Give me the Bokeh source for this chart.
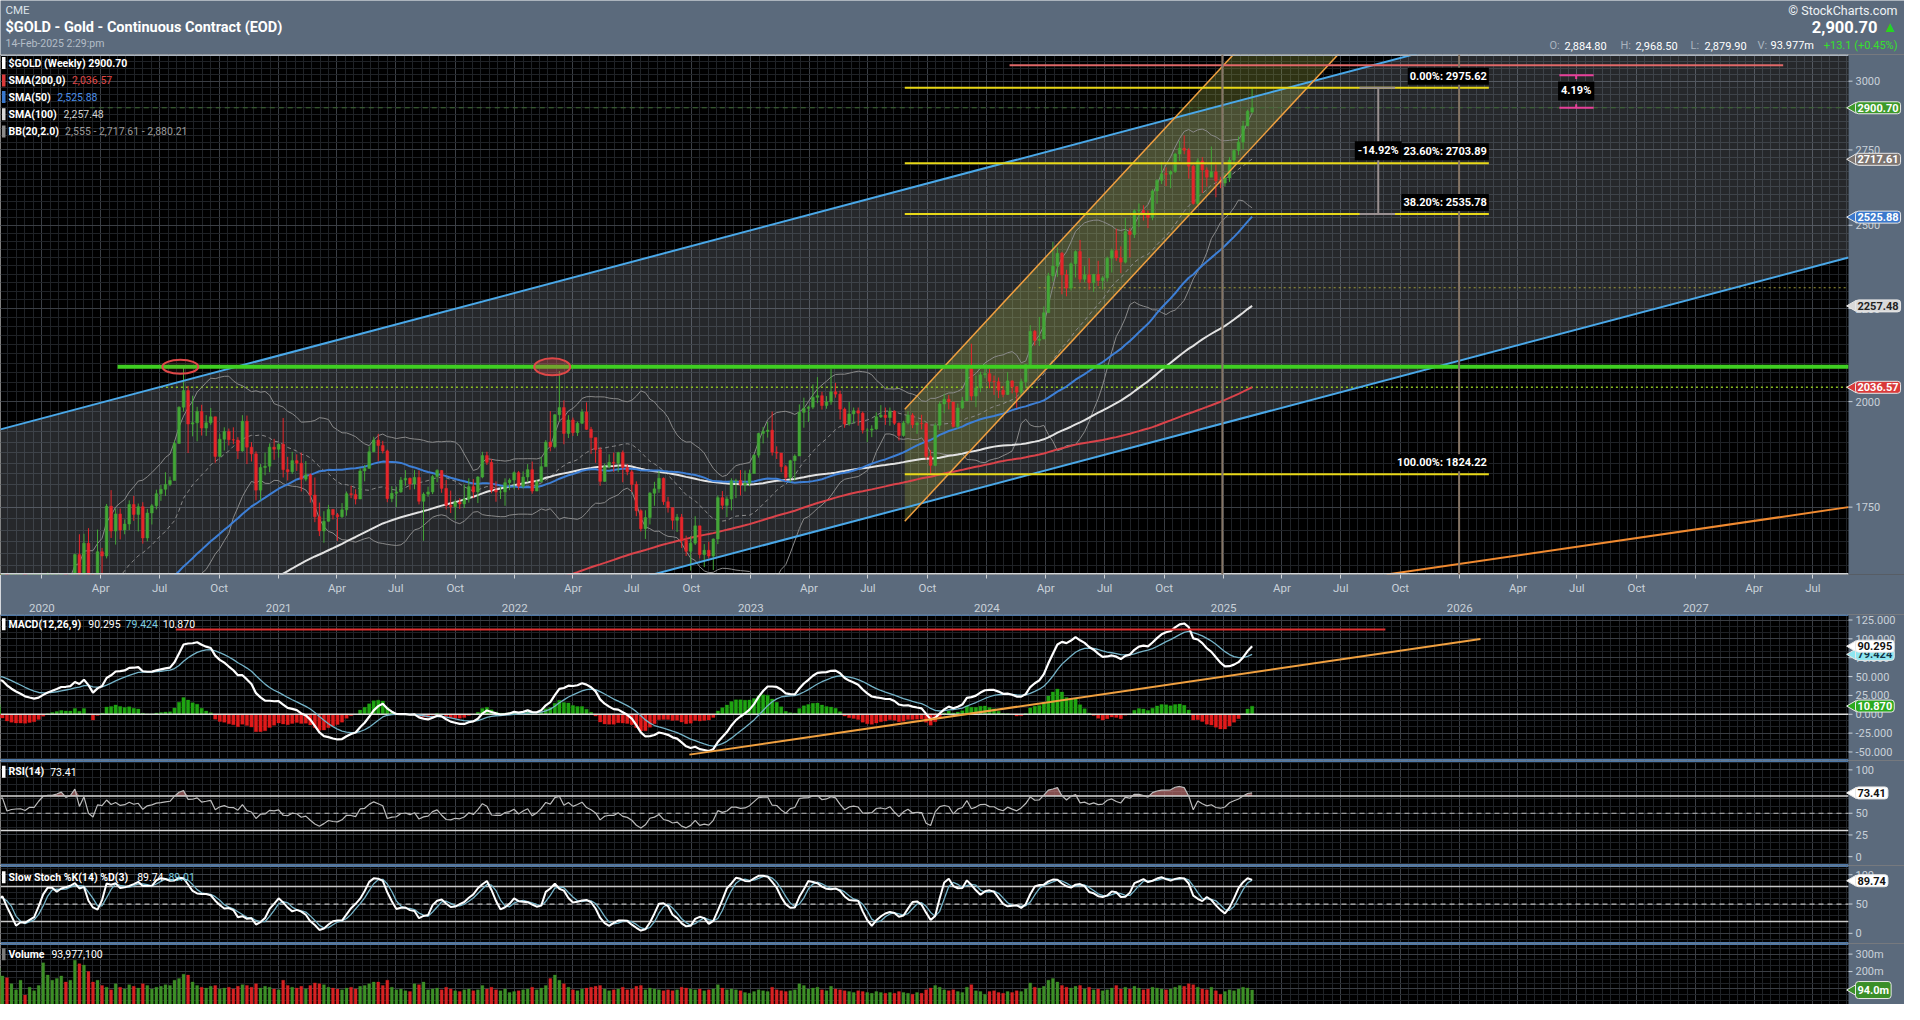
import numpy as np
import pandas as pd
from bokeh.plotting import figure
from bokeh.layouts import column
from bokeh.models import (Range1d, FixedTicker, DatetimeAxis, Label, Span,
                          CustomJSTickFormatter, ColumnDataSource, BoxAnnotation)
from bokeh.embed import file_html
from bokeh.resources import INLINE

# ---------------------------------------------------------------- data
# weekly closes (Fridays), warm-up year for the long moving averages
close_2018 = [
    1322, 1338, 1332, 1350,
    1337, 1316, 1356, 1330,
    1323, 1324, 1312, 1347, 1327,
    1332, 1347, 1336, 1323,
    1314, 1320, 1289, 1301,
    1298, 1302, 1278, 1270, 1254,
    1255, 1241, 1231, 1231,
    1223, 1219, 1184, 1213, 1206,
    1199, 1201, 1201, 1196,
    1207, 1222, 1229, 1235,
    1235, 1210, 1223, 1223, 1222,
    1252, 1241, 1258, 1283,
]

close_2019 = [
    1286, 1289, 1282, 1303,
    1317, 1316, 1322, 1330,
    1299, 1298, 1302, 1312, 1298,
    1295, 1290, 1276, 1288,
    1281, 1287, 1277, 1285, 1311,
    1346, 1344, 1399, 1413,
    1400, 1412, 1426, 1419,
    1457, 1509, 1523, 1537, 1529,
    1515, 1499, 1515, 1503,
    1513, 1489, 1494, 1505,
    1515, 1459, 1468, 1471, 1472,
    1465, 1481, 1481, 1515,
]
high_2019 = [
    1300, 1298, 1297, 1306,
    1326, 1322, 1326, 1349,
    1334, 1302, 1311, 1321, 1327,
    1302, 1316, 1293, 1292,
    1291, 1290, 1303, 1290, 1314,
    1349, 1362, 1414, 1443,
    1442, 1423, 1455, 1432,
    1458, 1524, 1535, 1546, 1566,
    1566, 1521, 1525, 1544,
    1520, 1519, 1500, 1508,
    1518, 1515, 1474, 1478, 1475,
    1487, 1488, 1486, 1519,
]
low_2019 = [
    1278, 1281, 1279, 1276,
    1300, 1306, 1305, 1318,
    1297, 1281, 1290, 1298, 1287,
    1285, 1285, 1270, 1268,
    1267, 1277, 1273, 1270, 1282,
    1309, 1327, 1342, 1392,
    1382, 1397, 1407, 1412,
    1400, 1462, 1495, 1500, 1521,
    1505, 1485, 1491, 1497,
    1465, 1486, 1481, 1486,
    1487, 1456, 1448, 1460, 1454,
    1459, 1462, 1474, 1479,
]
vol_2019 = [
    95, 110, 102, 118,
    120, 105, 98, 140,
    150, 125, 110, 130, 145,
    115, 120, 98, 110,
    105, 112, 100, 130, 165,
    150, 210, 190, 160,
    150, 175, 140, 200,
    230, 210, 180, 195, 170,
    160, 150, 175, 140,
    160, 150, 180, 220,
    175, 165, 130, 95, 150,
    65, 110, 90, 120,
]

close_2020 = [
    1552, 1560, 1560, 1571, 1587,
    1570, 1584, 1648, 1566,
    1672, 1530, 1484, 1654,
    1645, 1752, 1698, 1735,
    1700, 1713, 1756, 1734, 1751,
    1683, 1737, 1753, 1780,
    1790, 1801, 1810, 1897, 1986,
    2028, 1944, 1947, 1975,
    1934, 1947, 1962, 1866,
    1907, 1926, 1906, 1905, 1879,
    1951, 1888, 1872, 1788,
    1840, 1843, 1888, 1883,
]
high_2020 = [
    1557, 1611, 1566, 1575, 1590,
    1589, 1585, 1650, 1691,
    1692, 1704, 1560, 1701,
    1662, 1757, 1788, 1747,
    1747, 1723, 1765, 1775, 1758,
    1761, 1746, 1757, 1789,
    1800, 1829, 1819, 1904, 1988,
    2089, 2040, 2015, 1987,
    1992, 1966, 1984, 1962,
    1920, 1936, 1933, 1936, 1912,
    1966, 1965, 1900, 1878,
    1848, 1875, 1897, 1908,
]
low_2020 = [
    1513, 1549, 1537, 1550, 1565,
    1550, 1563, 1582, 1563,
    1563, 1505, 1451, 1474,
    1576, 1640, 1683, 1669,
    1680, 1691, 1700, 1720, 1697,
    1671, 1676, 1712, 1745,
    1764, 1775, 1797, 1811, 1897,
    1975, 1874, 1914, 1902,
    1916, 1915, 1942, 1851,
    1866, 1880, 1892, 1895, 1860,
    1877, 1848, 1854, 1765,
    1765, 1822, 1829, 1858,
]
vol_2020 = [
    250, 180, 150, 160, 175,
    140, 150, 265, 245,
    237, 200, 140, 150,
    120, 110, 95, 130,
    110, 100, 125, 115, 105,
    130, 120, 100, 110,
    115, 125, 120, 150, 160,
    185, 180, 140, 120,
    110, 105, 115, 120,
    100, 105, 110, 100, 115,
    125, 120, 110, 130,
    105, 115, 110, 100,
]

close_2021 = [
    1895, 1835, 1830, 1856, 1850,
    1813, 1823, 1777, 1729,
    1698, 1719, 1745, 1733,
    1729, 1744, 1780, 1778, 1768,
    1832, 1838, 1877, 1905,
    1892, 1879, 1769, 1781,
    1784, 1811, 1815, 1802, 1817,
    1763, 1779, 1784, 1819,
    1833, 1792, 1754, 1751,
    1761, 1757, 1768, 1796, 1784,
    1818, 1868, 1852, 1788,
    1784, 1784, 1805, 1811, 1828,
]
high_2021 = [
    1897, 1959, 1865, 1877, 1871,
    1875, 1855, 1826, 1817,
    1760, 1741, 1755, 1746,
    1737, 1759, 1785, 1798, 1790,
    1838, 1846, 1890, 1913,
    1920, 1903, 1882, 1797,
    1796, 1818, 1834, 1817, 1834,
    1833, 1783, 1796, 1823,
    1836, 1834, 1811, 1787,
    1767, 1770, 1801, 1815, 1813,
    1820, 1877, 1877, 1860,
    1808, 1796, 1815, 1815, 1831,
]
low_2021 = [
    1863, 1817, 1810, 1825, 1832,
    1785, 1808, 1760, 1717,
    1687, 1673, 1718, 1723,
    1677, 1726, 1731, 1770, 1756,
    1768, 1808, 1837, 1876,
    1855, 1873, 1761, 1761,
    1750, 1782, 1798, 1789, 1790,
    1756, 1677, 1773, 1779,
    1806, 1782, 1745, 1737,
    1722, 1746, 1748, 1760, 1770,
    1759, 1815, 1846, 1781,
    1762, 1768, 1753, 1788, 1790,
]
vol_2021 = [
    95, 150, 120, 110, 105,
    115, 100, 120, 135,
    130, 125, 110, 105,
    100, 95, 105, 110, 100,
    115, 120, 130, 140,
    140, 120, 150, 110,
    95, 100, 90, 85, 130,
    125, 140, 95, 100,
    105, 95, 110, 100,
    90, 85, 95, 100, 90,
    95, 120, 100, 110,
    95, 90, 100, 80, 85,
]

close_2022 = [
    1797, 1818, 1835, 1786,
    1807, 1842, 1900, 1889,
    1967, 1985, 1921, 1954,
    1923, 1946, 1974, 1931, 1911,
    1882, 1808, 1842, 1852,
    1850, 1875, 1840, 1830,
    1801, 1742, 1703, 1727, 1781,
    1791, 1815, 1762, 1749,
    1721, 1728, 1678, 1655, 1672,
    1709, 1648, 1657, 1645,
    1681, 1771, 1754, 1768,
    1809, 1810, 1800, 1804, 1826,
]
high_2022 = [
    1832, 1831, 1848, 1854,
    1812, 1865, 1905, 1976,
    1969, 2079, 2003, 1966,
    1960, 1950, 1981, 1998, 1937,
    1909, 1888, 1849, 1871,
    1875, 1877, 1880, 1848,
    1834, 1808, 1745, 1743, 1784,
    1807, 1832, 1817, 1773,
    1748, 1735, 1735, 1688, 1687,
    1730, 1708, 1670, 1675,
    1682, 1776, 1786, 1774,
    1815, 1814, 1834, 1833, 1835,
]
low_2022 = [
    1789, 1792, 1806, 1780,
    1786, 1806, 1845, 1878,
    1885, 1950, 1895, 1910,
    1915, 1915, 1944, 1930, 1872,
    1851, 1798, 1807, 1838,
    1830, 1829, 1806, 1822,
    1784, 1730, 1697, 1681, 1712,
    1753, 1782, 1755, 1738,
    1701, 1696, 1662, 1645, 1615,
    1668, 1640, 1622, 1640,
    1616, 1670, 1745, 1728,
    1743, 1770, 1776, 1785, 1797,
]
vol_2022 = [
    90, 95, 100, 110,
    95, 105, 120, 160,
    180, 150, 130, 110,
    95, 90, 100, 105, 110,
    115, 120, 100, 90,
    95, 100, 110, 95,
    100, 115, 120, 95, 105,
    100, 95, 90, 95,
    90, 95, 110, 105, 100,
    95, 100, 90, 95,
    100, 125, 105, 95,
    100, 95, 90, 80, 75,
]

close_2023 = [
    1869, 1921, 1926, 1929,
    1876, 1874, 1842, 1817,
    1856, 1867, 1973, 1983, 1986,
    2011, 2015, 1990, 1999,
    2025, 2019, 1981, 1944,
    1969, 1977, 1971, 1929, 1929,
    1932, 1962, 1966, 1960,
    1976, 1946, 1916, 1947,
    1966, 1942, 1946, 1945, 1866,
    1845, 1941, 1994, 2006,
    1999, 1938, 1984, 2002,
    2089, 2014, 2035, 2069, 2072,
]
high_2023 = [
    1871, 1923, 1937, 1949,
    1975, 1890, 1874, 1846,
    1858, 1871, 1993, 2010, 1990,
    2044, 2063, 2025, 2014,
    2085, 2048, 2028, 1985,
    1999, 1985, 1985, 1975, 1934,
    1941, 1973, 1991, 1985,
    1985, 1978, 1948, 1952,
    1976, 1971, 1950, 1967, 1948,
    1881, 1946, 2000, 2019,
    2017, 1998, 1995, 2012,
    2095, 2152, 2067, 2077, 2098,
]
low_2023 = [
    1828, 1863, 1897, 1911,
    1868, 1860, 1829, 1809,
    1806, 1810, 1870, 1935, 1949,
    1981, 1996, 1980, 1982,
    1992, 2010, 1955, 1935,
    1940, 1946, 1940, 1921, 1900,
    1912, 1930, 1959, 1942,
    1940, 1942, 1904, 1913,
    1943, 1934, 1920, 1931, 1858,
    1823, 1843, 1930, 1971,
    1980, 1936, 1933, 1981,
    2002, 2003, 1986, 2024, 2060,
]
vol_2023 = [
    85, 95, 90, 85,
    110, 95, 90, 85,
    90, 95, 130, 120, 100,
    105, 110, 95, 90,
    115, 100, 95, 90,
    85, 80, 90, 85, 80,
    75, 85, 80, 75,
    80, 75, 85, 80,
    75, 70, 80, 75, 95,
    105, 120, 110, 95,
    90, 95, 85, 80,
    110, 125, 90, 85, 70,
]

close_2024 = [
    2052, 2051, 2029, 2018,
    2053, 2038, 2024, 2051,
    2096, 2186, 2161, 2165, 2238,
    2345, 2374, 2413, 2348,
    2309, 2381, 2418, 2335, 2348,
    2325, 2349, 2331, 2339,
    2398, 2421, 2399, 2386,
    2480, 2471, 2546, 2547, 2536,
    2525, 2611, 2646, 2668,
    2667, 2676, 2736, 2756,
    2749, 2694, 2570, 2712, 2681,
    2657, 2675, 2645, 2637,
]
high_2024 = [
    2085, 2067, 2062, 2040,
    2076, 2055, 2033, 2059,
    2097, 2203, 2190, 2226, 2256,
    2354, 2448, 2431, 2417,
    2363, 2385, 2422, 2454, 2374,
    2398, 2351, 2390, 2345,
    2403, 2427, 2489, 2434,
    2523, 2491, 2551, 2570, 2564,
    2547, 2617, 2650, 2709,
    2690, 2680, 2740, 2782,
    2801, 2756, 2699, 2721, 2725,
    2690, 2762, 2700, 2658,
]
low_2024 = [
    2034, 2017, 2009, 2011,
    2017, 2021, 1984, 2016,
    2034, 2093, 2147, 2146, 2164,
    2240, 2328, 2342, 2291,
    2285, 2302, 2340, 2325, 2326,
    2304, 2298, 2315, 2305,
    2328, 2355, 2390, 2353,
    2382, 2400, 2460, 2495, 2515,
    2491, 2516, 2569, 2634,
    2627, 2620, 2671, 2712,
    2735, 2652, 2566, 2565, 2604,
    2625, 2660, 2590, 2620,
]
vol_2024 = [
    85, 90, 80, 75,
    85, 80, 90, 85,
    100, 135, 110, 105, 115,
    150, 160, 140, 120,
    110, 105, 115, 120, 100,
    110, 95, 100, 90,
    95, 105, 120, 100,
    110, 100, 115, 105, 95,
    100, 110, 105, 100,
    95, 100, 110, 120,
    115, 130, 125, 110, 100,
    95, 110, 90, 70,
]

close_2025 = [2654, 2715, 2748, 2778, 2835, 2887.6, 2900.7]
high_2025 = [2671, 2725, 2753, 2797, 2853, 2894, 2975.6]
low_2025 = [2626, 2641, 2699, 2732, 2752, 2834, 2879.9]
vol_2025 = [85, 95, 90, 100, 110, 105, 94]
last_open = 2884.80

first_friday = {2018: "2018-01-05", 2019: "2019-01-04", 2020: "2020-01-03",
                2021: "2021-01-01", 2022: "2022-01-07", 2023: "2023-01-06",
                2024: "2024-01-05", 2025: "2025-01-03"}

# annotation values
fib_levels = [2975.62, 2703.89, 2535.78, 1824.22]
fib_names = ["0.00%: 2975.62", "23.60%: 2703.89", "38.20%: 2535.78", "100.00%: 1824.22"]
fib_span = ["2023-08-27", "2026-02-15"]
channel_upper = [("2019-10-29", 1931.0), ("2027-08-25", 3591.0)]
channel_lower = [("2019-10-29", 1291.0), ("2027-08-25", 2400.0)]
orange_upper = [("2023-08-27", 1981.0), ("2025-04-03", 3321.0)]
orange_lower = [("2023-08-27", 1719.0), ("2025-09-12", 3321.0)]
orange_far = [("2025-09-10", 1607.0), ("2027-08-25", 1750.0)]
resistance = [("2020-04-27", 2090.0)]
top_line = [("2024-02-05", "2027-05-16", 3061.0)]
sma200_level = [("2020-07-03", 2036.57)]
mid_dotted = [("2024-03-21", 2310.0)]
last_level = [("2020-03-15", 2900.70)]
year_marks = ["2024-12-30", "2025-12-31"]
circles = [("2020-08-02", 2090.0, 0.08), ("2022-02-28", 2090.0, 0.3)]
measure_dates = ["2025-07-30", "2025-08-28", "2025-09-23"]
measure_label = ("-14.92%", 2747.0)
pct_dates = ["2026-06-04", "2026-06-30", "2026-07-27"]
pct_levels = [3023.0, 2900.70]
pct_label = ("4.19%", 2963.0)
macd_red = [("2020-07-26", "2025-09-08", 112.4)]
macd_trend = [("2022-09-28", -53.5), ("2026-02-02", 99.7)]

main_ticks = [1750, 2000, 2250, 2500, 2750, 3000]
macd_ticks = [-50, -25, 0, 25, 50, 75, 100, 125]
rsi_ticks = [0, 25, 50, 75, 100]
stoch_ticks = [0, 50, 100]
vol_ticks = [100, 200, 300]

main_tags = [(2900.70, "2900.70", "#3d9a2a", "white"), (2717.61, "2717.61", "#7c7470", "white"),
             (2525.88, "2525.88", "#3a78cc", "white"), (2257.48, "2257.48", "#d9d9d9", "#222222"),
             (2036.57, "2036.57", "#d93a3a", "white")]
macd_tags = [(79.424, "79.424", "#8ee6f0", "#113344"), (90.295, "90.295", "#ffffff", "#111111"),
             (10.870, "10.870", "#2aaa1e", "white")]
rsi_tags = [(73.41, "73.41", "#ffffff", "#111111")]
stoch_tags = [(89.74, "89.74", "#ffffff", "#111111")]
vol_tags = [(94.0, "94.0m", "#3a8f28", "white")]

# ---------------------------------------------------------------- frame
year_data = [(2018, close_2018, close_2018, close_2018, [np.nan] * len(close_2018)),
             (2019, close_2019, high_2019, low_2019, vol_2019),
             (2020, close_2020, high_2020, low_2020, vol_2020),
             (2021, close_2021, high_2021, low_2021, vol_2021),
             (2022, close_2022, high_2022, low_2022, vol_2022),
             (2023, close_2023, high_2023, low_2023, vol_2023),
             (2024, close_2024, high_2024, low_2024, vol_2024),
             (2025, close_2025, high_2025, low_2025, vol_2025)]
frames = []
for yr, c, h, l, v in year_data:
    d = pd.date_range(first_friday[yr], periods=len(c), freq="7D")
    frames.append(pd.DataFrame({"date": d, "close": c, "high": h, "low": l, "vol": v}))
df = pd.concat(frames, ignore_index=True)
df["close"] = df["close"].astype(float)
df["open"] = df["close"].shift(1).fillna(df["close"])
df.loc[df.index[-1], "open"] = last_open

c = df["close"]
df["sma50"] = c.rolling(50).mean()
df["sma100"] = c.rolling(100).mean()
df["sma200"] = c.rolling(200).mean()
df["bbm"] = c.rolling(20).mean()
sd = c.rolling(20).std(ddof=0)
df["bbu"] = df["bbm"] + 2 * sd
df["bbl"] = df["bbm"] - 2 * sd
ema12 = c.ewm(span=12, adjust=False).mean()
ema26 = c.ewm(span=26, adjust=False).mean()
df["macd"] = ema12 - ema26
df["signal"] = df["macd"].ewm(span=9, adjust=False).mean()
df["hist"] = df["macd"] - df["signal"]
delta = c.diff()
ag = delta.clip(lower=0).ewm(alpha=1 / 14, adjust=False).mean()
al = (-delta.clip(upper=0)).ewm(alpha=1 / 14, adjust=False).mean()
df["rsi"] = 100 - 100 / (1 + ag / al)
df["rsi_hi"] = np.maximum(df["rsi"], 70)
ll = df["low"].rolling(14).min()
hh = df["high"].rolling(14).max()
fastk = 100 * (c - ll) / (hh - ll)
df["slowk"] = fastk.rolling(3).mean()
df["slowd"] = df["slowk"].rolling(3).mean()
df["top"] = np.maximum(df["open"], df["close"])
df["bot"] = np.minimum(df["open"], df["close"])
up = df["close"] >= df["open"]
df["ccol"] = np.where(up, "#43a637", "#e5262b")
df["vcol"] = np.where(up, "#3d8f27", "#d62222")
df["hcol"] = np.where(df["hist"] >= 0, "#1fa512", "#e01a1a")

vis = df[df["date"] >= "2019-09-01"].reset_index(drop=True)
src = ColumnDataSource(vis)


def ms(s):
    return pd.Timestamp(s).value / 1e6


WEEK = 7 * 24 * 3600 * 1000.0

# ---------------------------------------------------------------- styling
W = 1904
PLOT_W = 1848          # width of the chart area; the rest is the price scale strip
AXBG = "#5b6a7c"
OUT = "#4d77a6"
GRID = "#3a3e44"
GRIDM = "#1f2226"
TXT = "#c9d1d9"
FONT = "Roboto"
X_START = ms("2019-10-29")
X_END = ms("2027-08-25")
DPP = (X_END - X_START) / PLOT_W
X_MAX = X_END + (W - PLOT_W) * DPP
x_rng = Range1d(X_START, X_MAX)

quarters, minors, jans = [], [], []
for y in range(2019, 2028):
    for m in (1, 4, 7, 10):
        a = pd.Timestamp(f"{y}-{m:02d}-01")
        b = a + pd.DateOffset(months=3)
        if ms(a) <= X_END:
            quarters.append(ms(a))
        for k in range(1, 7):
            v = ms(a) + (ms(b) - ms(a)) * k / 7
            if v <= X_END:
                minors.append(v)
    jans.append(ms(f"{y}-01-01"))

CW = {**{d: 0.562 for d in "0123456789"}, " ": 0.248, ".": 0.257, ",": 0.197, "(": 0.342,
      ")": 0.348, "%": 0.733, "-": 0.276, ":": 0.242, "$": 0.562, "A": 0.652, "B": 0.623,
      "C": 0.652, "D": 0.656, "E": 0.568, "G": 0.682, "H": 0.713, "I": 0.272, "K": 0.627,
      "L": 0.538, "M": 0.873, "O": 0.688, "R": 0.616, "S": 0.593, "V": 0.636, "W": 0.887,
      "T": 0.61, "e": 0.529, "k": 0.507, "l": 0.242, "y": 0.474, "u": 0.551, "m": 0.876,
      "o": 0.570, "h": 0.552, "c": 0.523, "t": 0.327, "i": 0.243, "n": 0.552, "r": 0.338,
      "a": 0.544, "s": 0.516, "d": 0.560}


def tw(s, size, bold=False):
    return sum(CW.get(ch, 0.58) for ch in s) * size * (1.06 if bold else 1.0)


def base_fig(height, y_rng, y_type="linear", bottom=0):
    f = figure(width=W, height=height, x_range=x_rng, y_range=y_rng,
               x_axis_type="datetime", y_axis_type=y_type, toolbar_location=None,
               output_backend="svg", title=None, y_axis_location=None,
               x_axis_location="below" if bottom else None,
               min_border_left=0, min_border_right=0, min_border_top=0,
               min_border_bottom=bottom, background_fill_color="black",
               border_fill_color=AXBG, outline_line_color=None)
    f.xgrid.ticker = FixedTicker(ticks=quarters, minor_ticks=minors)
    f.xgrid.grid_line_color = GRID
    f.xgrid.minor_grid_line_color = GRIDM
    f.ygrid.grid_line_color = GRID
    f.ygrid.minor_grid_line_color = GRIDM
    return f


def hline(f, lv, color, width=1.5, dash="solid", start=X_START):
    f.segment(x0=[start], x1=[X_END], y0=[lv], y1=[lv], line_color=color,
              line_width=width, line_dash=dash)


def price_strip(f, y_rng, ticks, fmt, tag_items, edge_top=OUT, edge_bottom=OUT):
    lo, hi = y_rng.start, y_rng.end
    # panel separators
    if edge_top:
        hline(f, hi, edge_top, 3)
    if edge_bottom:
        hline(f, lo, edge_bottom, 3)
    # the price-scale strip at the right
    f.quad(left=[X_END], right=[X_MAX], bottom=[lo], top=[hi], fill_color=AXBG,
           line_color=None)
    f.segment(x0=[X_END] * len(ticks), x1=[X_END + 4 * DPP] * len(ticks), y0=ticks, y1=ticks,
              line_color=TXT, line_width=1)
    for t in ticks:
        f.add_layout(Label(x=X_END, y=t, x_offset=7, text=fmt(t), text_align="left",
                           text_baseline="middle", text_font=FONT, text_font_size="11px",
                           text_color=TXT))
    for yv, text, bg, fg in tag_items:
        f.scatter(x=[X_END + 4.5 * DPP], y=[yv], marker="triangle", angle=np.pi / 2, size=11,
                  fill_color=bg, line_color="#e8e8e8", line_width=1)
        f.add_layout(Label(x=X_END, y=yv, text=text, x_offset=7, text_align="left",
                           text_baseline="middle", text_font=FONT, text_font_size="11px",
                           text_font_style="bold", text_color=fg, background_fill_color=bg,
                           border_line_color="#e8e8e8", border_line_width=1, padding=2,
                           border_radius=3))


def legend(f, fh, ytop, segs, swatch):
    y = fh - ytop
    f.add_layout(BoxAnnotation(left=1.5, right=5, top=y + 6, bottom=y - 6, left_units="screen",
                               right_units="screen", top_units="screen", bottom_units="screen",
                               fill_color=swatch, fill_alpha=1, line_color=None))
    x = 8.0
    for text, col, bold in segs:
        f.add_layout(Label(x=x, y=y, x_units="screen", y_units="screen", text=text,
                           text_color=col, text_font=FONT, text_font_size="10.5px",
                           text_font_style="bold" if bold else "normal",
                           text_baseline="middle", text_align="left"))
        x += tw(text, 10.5, bold) + 5


# ---------------------------------------------------------------- header
HH = 54
hdr = figure(width=W, height=HH, x_range=Range1d(0, W), y_range=Range1d(HH, 0),
             toolbar_location=None, output_backend="svg", title=None,
             x_axis_location=None, y_axis_location=None, min_border=0,
             background_fill_color=AXBG, border_fill_color=AXBG, outline_line_color=None)
hdr.grid.visible = False


def htext(x, y, text, size, col, bold=False, align="left"):
    hdr.add_layout(Label(x=x, y=y, text=text, text_font=FONT, text_font_size=size,
                         text_color=col, text_font_style="bold" if bold else "normal",
                         text_align=align, text_baseline="middle"))


htext(5, 9.5, "CME", "11.5px", "#dde3e9")
htext(5, 26.5, "$GOLD - Gold - Continuous Contract (EOD)", "14.5px", "#ffffff", True)
htext(5, 42.5, "14-Feb-2025 2:29:pm", "10.5px", "#b4bec8")
htext(1897, 9.5, "© StockCharts.com", "12.5px", "#eef2f5", False, "right")
htext(1897, 26, "▲", "15px", "#27d41f", False, "right")
htext(1877, 26, "2,900.70", "16.5px", "#ffffff", True, "right")
for x, t, col in [(1549, "O:", "#aab4be"), (1564, "2,884.80", "#ffffff"),
                  (1620, "H:", "#aab4be"), (1635, "2,968.50", "#ffffff"),
                  (1690, "L:", "#aab4be"), (1704, "2,879.90", "#ffffff"),
                  (1757, "V:", "#aab4be"), (1770, "93.977m", "#ffffff")]:
    htext(x, 45, t, "11px", col)
htext(1897, 45, "+13.1 (+0.45%)", "11px", "#36e02c", False, "right")

# ---------------------------------------------------------------- main price panel
FH = 522
y_main = Range1d(1607, 3103)
p = base_fig(FH + 38, y_main, "log", bottom=38)
p.ygrid.ticker = FixedTicker(ticks=main_ticks,
                             minor_ticks=[float(v) for v in range(1625, 3101, 25)])
mx = p.xaxis[0]
mx.ticker = FixedTicker(ticks=quarters)
mx.formatter = CustomJSTickFormatter(code="""
const m = new Date(tick).getUTCMonth();
const n = ["","Feb","Mar","Apr","May","Jun","Jul","Aug","Sep","Oct","Nov","Dec"];
return n[m];""")
mx.axis_line_color = None
mx.major_tick_line_color = "#d0d4d8"
mx.major_tick_out = 4
mx.major_tick_in = 0
mx.minor_tick_line_color = None
mx.major_label_standoff = 2
mx.major_label_text_color = TXT
mx.major_label_text_font = FONT
mx.major_label_text_font_size = "11.5px"
yx = DatetimeAxis(ticker=FixedTicker(ticks=jans),
                  formatter=CustomJSTickFormatter(code="return String(new Date(tick).getUTCFullYear());"),
                  axis_line_color=None, major_tick_line_color=None, minor_tick_line_color=None,
                  major_label_standoff=0, major_label_text_color=TXT, major_label_text_font=FONT,
                  major_label_text_font_size="11.5px")
p.add_layout(yx, "below")

# blue channel fill
(cu0, pu0), (cu1, pu1) = channel_upper
(cl0, pl0), (cl1, pl1) = channel_lower
p.patch([ms(cu0), ms(cu1), ms(cl1), ms(cl0)], [pu0, pu1, pl1, pl0],
        fill_color="#bcc8d8", fill_alpha=0.2, line_color=None)
# orange channel fill
(ou0, qu0), (ou1, qu1) = orange_upper
(ol0, ql0), (ol1, ql1) = orange_lower
p.patch([ms(ou0), ms(ou1), ms(ol1), ms(ol0)], [qu0, qu1, ql1, ql0],
        fill_color="#a8b848", fill_alpha=0.28, line_color=None)

for d in year_marks:
    p.add_layout(Span(location=ms(d), dimension="height", line_color="#857565", line_width=2))

for d, lv in sma200_level:
    hline(p, lv, "#8cc020", 1.5, "2 3", ms(d))
for d, lv in mid_dotted:
    hline(p, lv, "#a09a3a", 1.2, "2 3", ms(d))
for d, lv in last_level:
    hline(p, lv, "#3f6a35", 1, "5 4", ms(d))

# indicators
p.line("date", "bbu", source=src, line_color="#8a8a8a", line_width=1)
p.line("date", "bbl", source=src, line_color="#8a8a8a", line_width=1)
p.line("date", "bbm", source=src, line_color="#8a8a8a", line_width=1, line_dash="4 3")
p.line("date", "sma200", source=src, line_color="#d9434a", line_width=2)
p.line("date", "sma100", source=src, line_color="#e2e2e2", line_width=2)
p.line("date", "sma50", source=src, line_color="#3d7fd6", line_width=2)

# candles
p.segment(x0="date", x1="date", y0="low", y1="high", source=src, line_color="ccol", line_width=1)
p.vbar(x="date", width=WEEK * 0.6, top="top", bottom="bot", source=src,
       fill_color="ccol", line_color="ccol", line_width=0.5)

# trend lines
p.line([ms(cu0), ms(cu1)], [pu0, pu1], line_color="#4aa8e8", line_width=2)
p.line([ms(cl0), ms(cl1)], [pl0, pl1], line_color="#4aa8e8", line_width=2)
p.line([ms(ou0), ms(ou1)], [qu0, qu1], line_color="#f0a040", line_width=1.5)
p.line([ms(ol0), ms(ol1)], [ql0, ql1], line_color="#f0a040", line_width=1.5)
(of0, rf0), (of1, rf1) = orange_far
p.line([ms(of0), ms(of1)], [rf0, rf1], line_color="#f08a30", line_width=2)
for d, lv in resistance:
    hline(p, lv, "#3fcf22", 4, "solid", ms(d))
for d0, d1, lv in top_line:
    p.segment(x0=[ms(d0)], x1=[ms(d1)], y0=[lv], y1=[lv], line_color="#e06868", line_width=2)
p.ellipse(x=[ms(d) for d, _, _ in circles], y=[v for _, v, _ in circles],
          width=[36, 36], height=[14, 17], width_units="screen", height_units="screen",
          line_color="#e04848", line_width=2, fill_color="#e04848",
          fill_alpha=[a for _, _, a in circles])

# fibonacci
fx0, fx1 = ms(fib_span[0]), ms(fib_span[1])
p.segment(x0=[fx0] * 4, x1=[fx1] * 4, y0=fib_levels, y1=fib_levels, line_color="#e8d818", line_width=2)
for lv, name in zip(fib_levels, fib_names):
    p.add_layout(Label(x=fx1, y=lv, text=name, text_align="right", text_baseline="bottom",
                       y_offset=3, text_font=FONT, text_font_size="11px", text_font_style="bold",
                       text_color="white", background_fill_color="black", padding=2))

# measurement tools
m0, m1, m2 = [ms(d) for d in measure_dates]
p.segment(x0=[m0, m0], x1=[m2, m2], y0=[fib_levels[0], fib_levels[2]],
          y1=[fib_levels[0], fib_levels[2]], line_color="#9a9090", line_width=2)
p.segment(x0=[m1], x1=[m1], y0=[fib_levels[0]], y1=[fib_levels[2]], line_color="#9a9090", line_width=2)
p.add_layout(Label(x=m1, y=measure_label[1], text=measure_label[0], text_align="center",
                   text_baseline="middle", text_font=FONT, text_font_size="11px",
                   text_font_style="bold", text_color="white", background_fill_color="black",
                   padding=3))
k0, k1, k2 = [ms(d) for d in pct_dates]
p.segment(x0=[k0, k0], x1=[k2, k2], y0=pct_levels, y1=pct_levels, line_color="#e8409a", line_width=2)
p.segment(x0=[k1, k1], x1=[k1, k1], y0=pct_levels, y1=[3008.0, 2914.0], line_color="#e8409a", line_width=2)
p.add_layout(Label(x=k1, y=pct_label[1], text=pct_label[0], text_align="center",
                   text_baseline="middle", text_font=FONT, text_font_size="11px",
                   text_font_style="bold", text_color="white", background_fill_color="black",
                   padding=3))

price_strip(p, y_main, main_ticks, lambda t: f"{t:d}", main_tags,
            edge_top="#aab4c0", edge_bottom="#d0d4d8")
legend(p, FH, 10.6, [("$GOLD (Weekly) 2900.70", "#ffffff", True)], "#ffffff")
legend(p, FH, 27.9, [("SMA(200,0)", "#ffffff", True), ("2,036.57", "#e04848", False)], "#d93a3a")
legend(p, FH, 44.6, [("SMA(50)", "#ffffff", True), ("2,525.88", "#4a8ee8", False)], "#3a78cc")
legend(p, FH, 61.8, [("SMA(100)", "#ffffff", True), ("2,257.48", "#d0d0d0", False)], "#d8d8d8")
legend(p, FH, 79.0, [("BB(20,2.0)", "#ffffff", True),
                     ("2,555 - 2,717.61 - 2,880.21", "#9a9a9a", False)], "#8a8a8a")

# ---------------------------------------------------------------- MACD
MH = 146
y_macd = Range1d(-61.3, 132.3)
pm = base_fig(MH, y_macd)
pm.ygrid.ticker = FixedTicker(ticks=macd_ticks,
                              minor_ticks=[float(v) for v in np.arange(-75, 150, 25 / 3)])
pm.vbar(x="date", width=WEEK * 0.75, top="hist", bottom=0, source=src,
        fill_color="hcol", line_color="hcol", line_width=0.3)
hline(pm, 0, "#dddddd", 1.5)
pm.line("date", "signal", source=src, line_color="#74b3c8", line_width=1.3)
pm.line("date", "macd", source=src, line_color="#ffffff", line_width=2.2)
for d0, d1, lv in macd_red:
    pm.segment(x0=[ms(d0)], x1=[ms(d1)], y0=[lv], y1=[lv], line_color="#e03030", line_width=2)
(t0, v0), (t1, v1) = macd_trend
pm.line([ms(t0), ms(t1)], [v0, v1], line_color="#f0a040", line_width=2)
price_strip(pm, y_macd, macd_ticks, lambda t: f"{t:.3f}", macd_tags)
legend(pm, MH, 9.8, [("MACD(12,26,9)", "#ffffff", True), ("90.295", "#ffffff", False),
                     ("79.424", "#7fd0e0", False), ("10.870", "#ffffff", False)], "#ffffff")

# ---------------------------------------------------------------- RSI
RH = 105
y_rsi = Range1d(-10.2, 110.8)
pr = base_fig(RH, y_rsi)
pr.ygrid.ticker = FixedTicker(ticks=rsi_ticks,
                              minor_ticks=[float(v) for v in np.arange(-25, 125, 25 / 3)])
pr.varea(x="date", y1=70, y2="rsi_hi", source=src, fill_color="#b06a6a", fill_alpha=0.75)
hline(pr, 70, "#d8d8d8", 1.5)
hline(pr, 30, "#d8d8d8", 1.5)
hline(pr, 50, "#bbbbbb", 1.2, "5 4")
pr.line("date", "rsi", source=src, line_color="#bcbcbc", line_width=1.2)
price_strip(pr, y_rsi, rsi_ticks, lambda t: f"{t:d}", rsi_tags)
legend(pr, RH, 11.3, [("RSI(14)", "#ffffff", True), ("73.41", "#ffffff", False)], "#ffffff")

# ---------------------------------------------------------------- Slow stochastic
SH = 78
y_sto = Range1d(-17.3, 115.7)
ps = base_fig(SH, y_sto)
ps.ygrid.ticker = FixedTicker(ticks=stoch_ticks,
                              minor_ticks=[float(v) for v in np.arange(-20, 120, 10)])
hline(ps, 80, "#c8c8c8", 1.5)
hline(ps, 20, "#c8c8c8", 1.5)
hline(ps, 50, "#bbbbbb", 1.2, "5 4")
ps.line("date", "slowd", source=src, line_color="#74b3c8", line_width=1.3)
ps.line("date", "slowk", source=src, line_color="#ffffff", line_width=2)
price_strip(ps, y_sto, stoch_ticks, lambda t: f"{t:d}", stoch_tags)
legend(ps, SH, 11.8, [("Slow Stoch %K(14) %D(3)", "#ffffff", True), ("89.74", "#ffffff", False),
                      ("89.01", "#7fd0e0", False)], "#ffffff")

# ---------------------------------------------------------------- Volume
VH = 61
y_vol = Range1d(11, 361)
pv = base_fig(VH, y_vol)
pv.ygrid.ticker = FixedTicker(ticks=vol_ticks,
                              minor_ticks=[float(v) for v in np.arange(0, 400, 100 / 3)])
pv.vbar(x="date", width=WEEK * 0.65, top="vol", bottom=0, source=src,
        fill_color="vcol", line_color="vcol", line_width=0.3)
price_strip(pv, y_vol, vol_ticks, lambda t: f"{t:d}m", vol_tags, edge_bottom=None)
legend(pv, VH, 10.8, [("Volume", "#ffffff", True), ("93,977,100", "#ffffff", False)], "#7a7a7a")

layout = column(hdr, p, pm, pr, ps, pv, spacing=0)
open("out.html", "w").write(file_html(layout, INLINE))
